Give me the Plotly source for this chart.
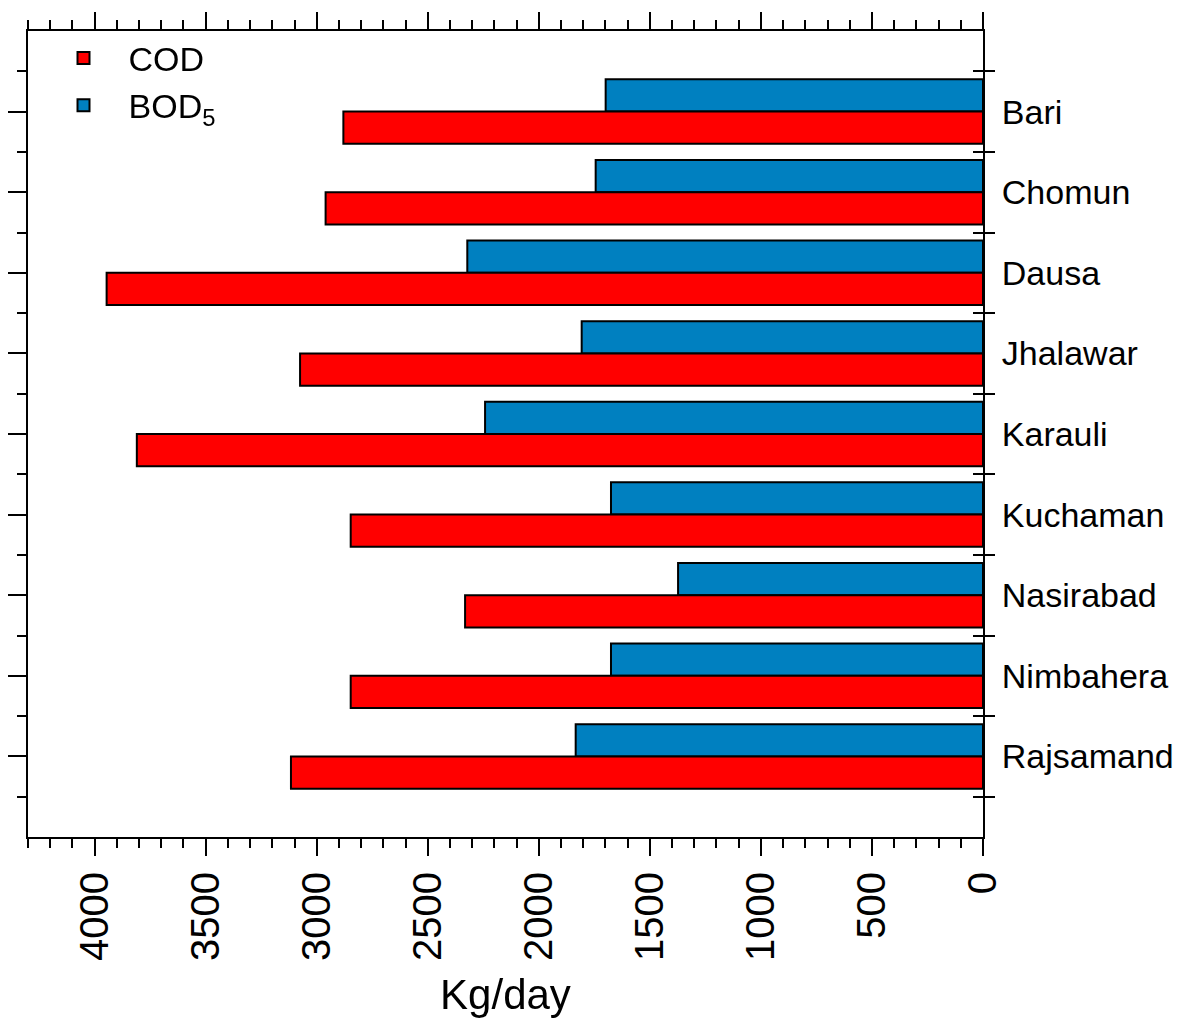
import plotly.graph_objects as go

towns = ['Bari', 'Chomun', 'Dausa', 'Jhalawar', 'Karauli',
         'Kuchaman', 'Nasirabad', 'Nimbahera', 'Rajsamand']
cod = [2880, 2960, 3946, 3075, 3810, 2847, 2332, 2847, 3116]
bod5 = [1699, 1744, 2322, 1807, 2242, 1675, 1373, 1675, 1834]
x_ticks = [0, 500, 1000, 1500, 2000, 2500, 3000, 3500, 4000]

pos = list(range(len(towns)))
edges = [p - 0.5 for p in pos] + [pos[-1] + 0.5]
font = 'Liberation Sans, Arial, sans-serif'
yr = [len(towns), -1]

fig = go.Figure()
fig.add_trace(go.Bar(y=pos, x=bod5, orientation='h', name='BOD<sub>5</sub>',
                     marker=dict(color='#0080c0', line=dict(color='black', width=2)),
                     legendrank=2))
fig.add_trace(go.Bar(y=pos, x=cod, orientation='h', name='COD',
                     marker=dict(color='#ff0000', line=dict(color='black', width=2)),
                     legendrank=1))

# invisible copies so the extra (top / right) axes get drawn
for xa, ya in [('x2', 'y'), ('x', 'y2'), ('x', 'y3')]:
    fig.add_trace(go.Scatter(x=cod, y=pos, xaxis=xa, yaxis=ya, mode='markers',
                             opacity=0, showlegend=False, hoverinfo='skip'))

axis_common = dict(showgrid=False, zeroline=False, showline=True, automargin=False,
                   linecolor='black', linewidth=2, tickcolor='black')

fig.update_layout(
    width=1168, height=1010,
    margin=dict(l=20, r=193, t=23, b=181),
    plot_bgcolor='white', paper_bgcolor='white',
    font=dict(family=font, color='black', size=34),
    barmode='group', bargap=0.2, bargroupgap=0,
    showlegend=True,
    legend=dict(x=0.011, y=1.002, xanchor='left', yanchor='top',
                bgcolor='rgba(0,0,0,0)', font=dict(size=34),
                tracegroupgap=0, itemwidth=80),
    xaxis=dict(**axis_common, range=[4300, 0], tickvals=x_ticks,
               ticks='outside', ticklen=17, tickwidth=2, tickangle=-90,
               tickfont=dict(size=40),
               minor=dict(dtick=100, tick0=0, ticks='outside', ticklen=9,
                          tickwidth=2, tickcolor='black'),
               title=dict(text='Kg/day', font=dict(size=42), standoff=21)),
    xaxis2=dict(**axis_common, overlaying='x', side='top', anchor='y',
                range=[4300, 0], tickvals=x_ticks, showticklabels=False,
                ticks='outside', ticklen=17, tickwidth=2,
                minor=dict(dtick=100, tick0=0, ticks='outside', ticklen=9,
                           tickwidth=2, tickcolor='black')),
    yaxis=dict(**axis_common, range=yr, tickvals=pos, showticklabels=False,
               ticks='outside', ticklen=18, tickwidth=2,
               minor=dict(tickvals=edges, ticks='outside', ticklen=9,
                          tickwidth=2, tickcolor='black')),
    yaxis2=dict(**axis_common, overlaying='y', side='right', anchor='x',
                range=yr, tickvals=pos, ticktext=towns, ticks='',
                ticklabelstandoff=10,
                minor=dict(tickvals=edges, ticks='outside', ticklen=10,
                           tickwidth=2, tickcolor='black')),
    yaxis3=dict(**axis_common, overlaying='y', side='right', anchor='x',
                range=yr, tickvals=edges, showticklabels=False,
                ticks='inside', ticklen=10, tickwidth=2),
)

fig.write_html("out.html")
